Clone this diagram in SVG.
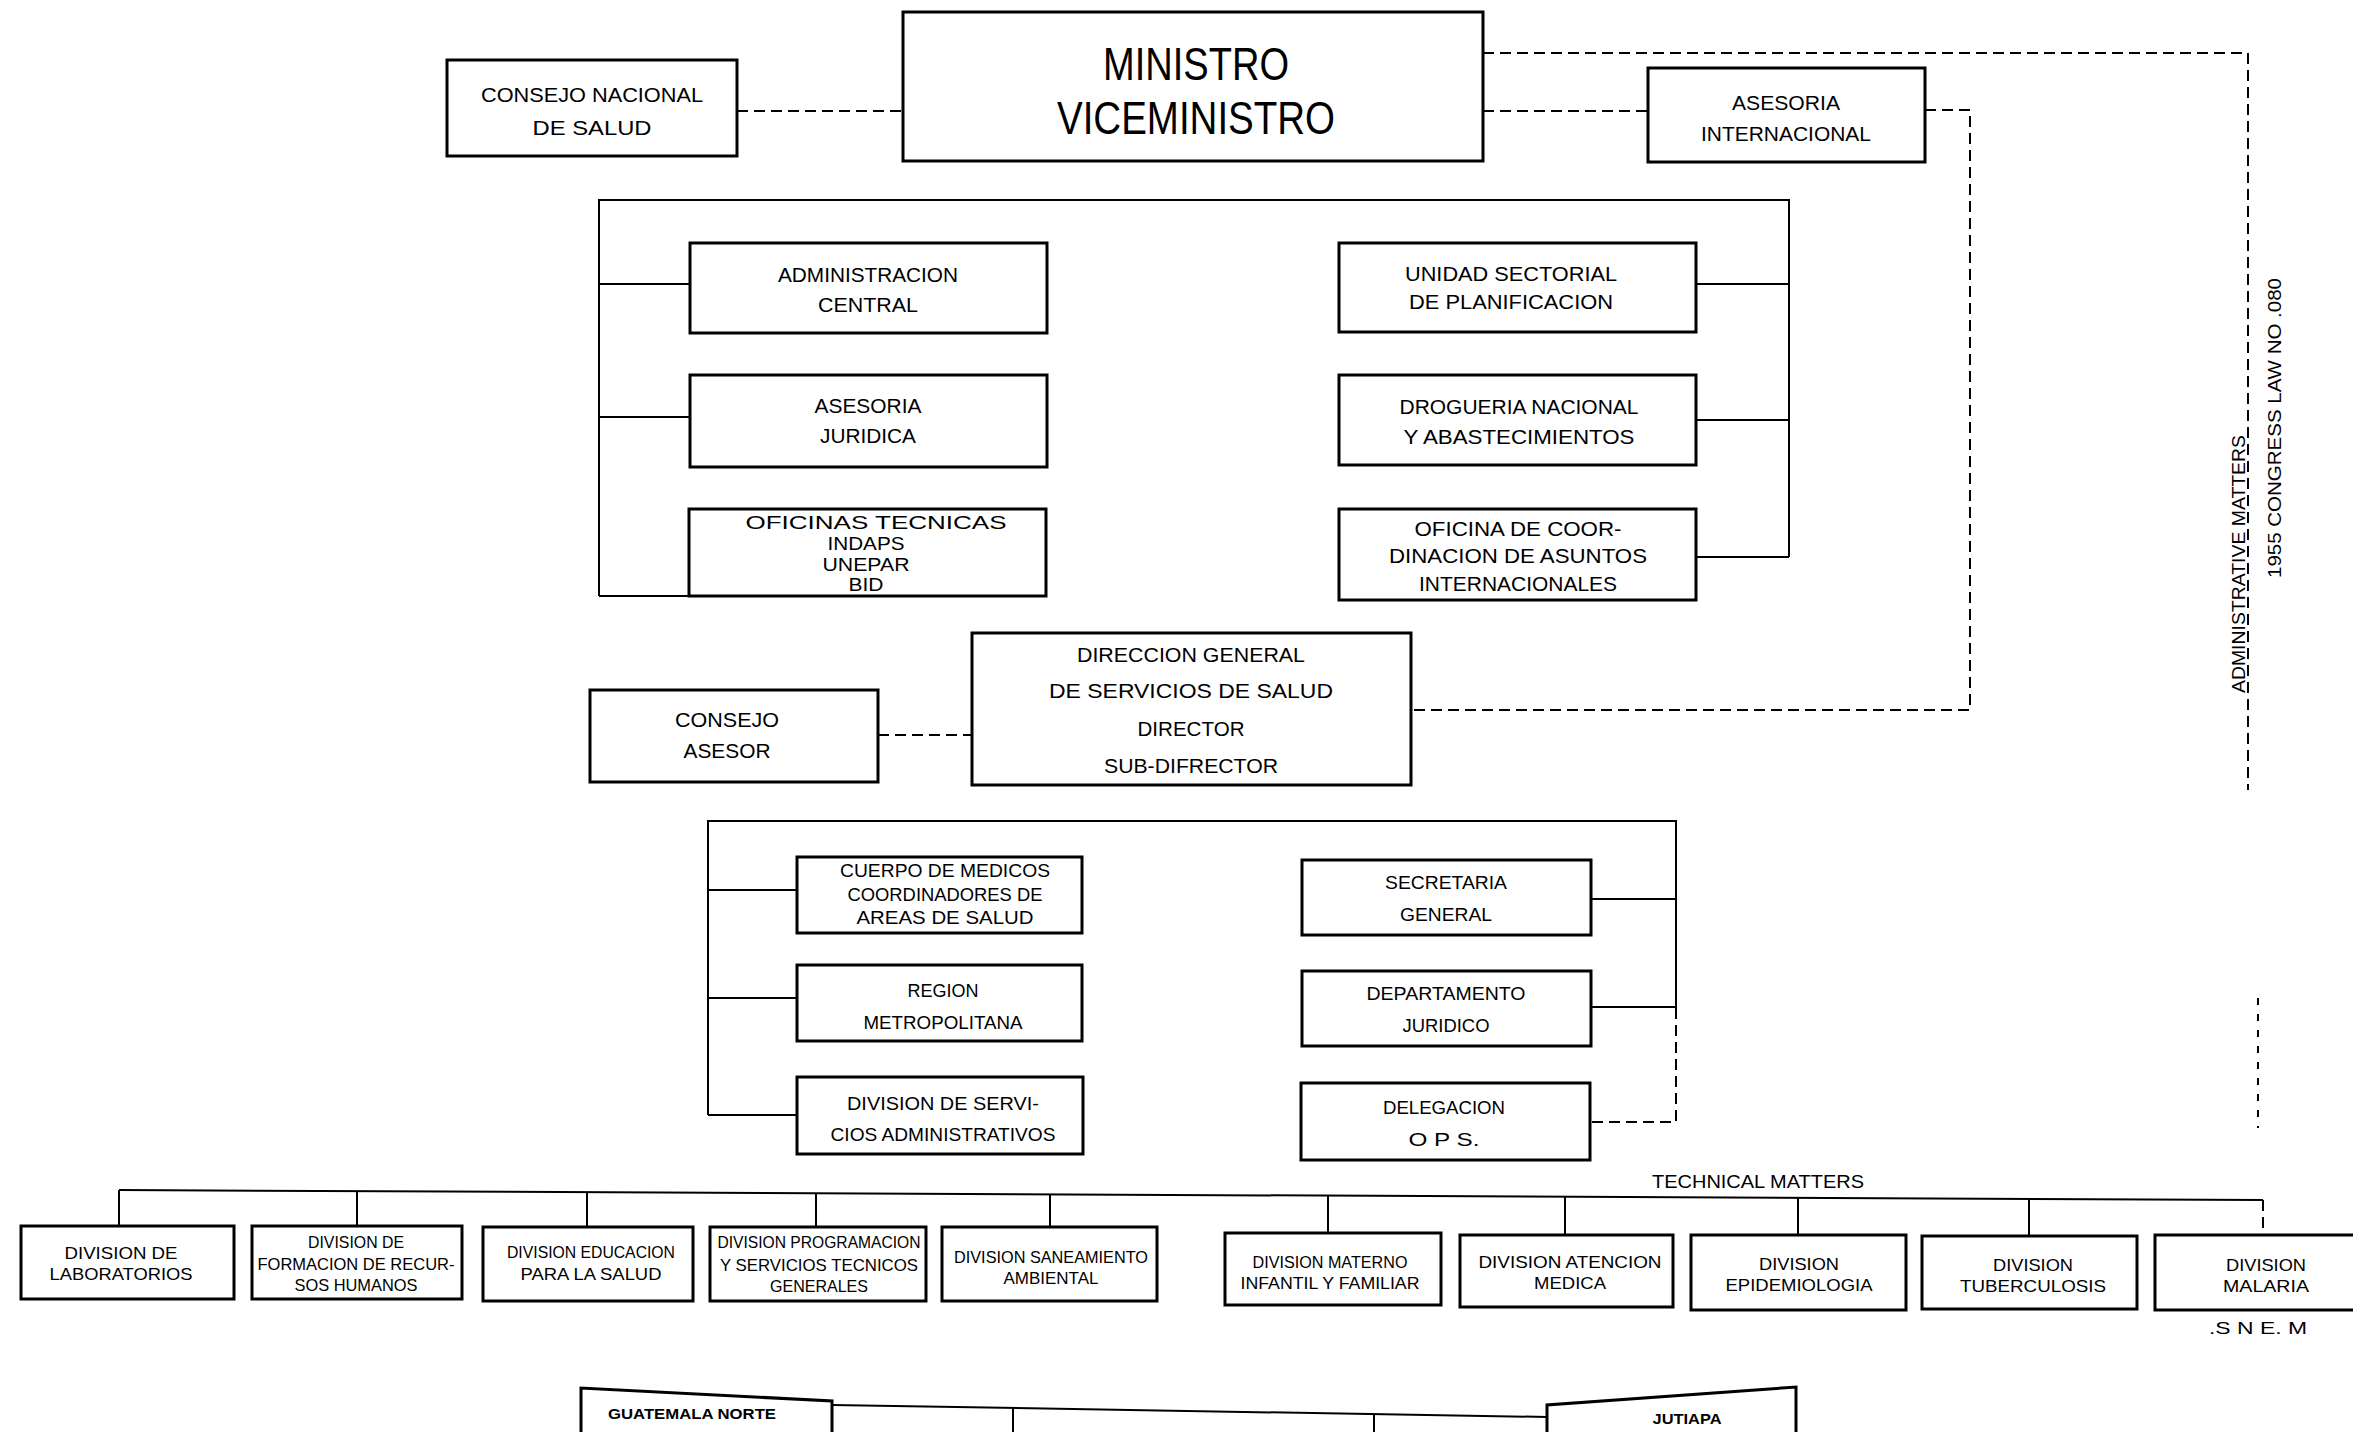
<svg xmlns="http://www.w3.org/2000/svg" width="2353" height="1432" viewBox="0 0 2353 1432">
<style>
.box{fill:#fff;stroke:#000;stroke-width:3}
.ln{stroke:#000;stroke-width:2;fill:none}
.dash{stroke:#000;stroke-width:2;fill:none;stroke-dasharray:11 6}
.dot{stroke:#000;stroke-width:2;fill:none;stroke-dasharray:7 9}
text{font-family:"Liberation Sans",Arial,sans-serif;fill:#000;text-anchor:middle}
.t21{font-size:21px}
.t19{font-size:19px}
.t17{font-size:17px}
.big{font-size:46px}
</style>
<rect width="2353" height="1432" fill="#fff"/>

<g id="connectors">
  <!-- dashed staff links -->
  <path class="dash" d="M737,111 H903"/>
  <path class="dash" d="M1483,111 H1648"/>
  <path class="dash" d="M1483,53 H2248 V790"/>
  <path class="dot" d="M2258,998 V1128"/>
  <path class="dash" d="M1925,110 H1970 V710 H1411"/>
  <path class="dash" d="M878,735 H972"/>
  <!-- bracket 1 -->
  <path class="ln" d="M599,596 V200 H1789 V557"/>
  <path class="ln" d="M599,284 H690 M599,417 H690 M599,596 H689"/>
  <path class="ln" d="M1696,284 H1789 M1696,420 H1789 M1696,557 H1789"/>
  <!-- bracket 2 -->
  <path class="ln" d="M708,1115 V821 H1676 V1008"/>
  <path class="dash" d="M1676,1008 V1122 H1591"/>
  <path class="ln" d="M708,890 H797 M708,998 H797 M708,1115 H797"/>
  <path class="ln" d="M1591,899 H1676 M1591,1007 H1676"/>
  <!-- technical matters bus -->
  <path class="ln" d="M119,1190 L2263,1200"/>
  <path class="ln" d="M119,1190 V1226 M357,1191 V1226 M587,1192 V1227 M816,1193 V1227 M1050,1194 V1227 M1328,1196 V1233 M1565,1197 V1235 M1798,1198 V1235 M2029,1199 V1236"/>
  <path class="dash" d="M2263,1200 V1235"/>
  <!-- bottom partial row -->
  <path class="ln" d="M832,1405 L1547,1417"/>
  <path class="ln" d="M1013,1408 V1432 M1374,1414 V1432"/>
</g>

<g id="n-consejo-nacional">
  <rect class="box" x="447" y="60" width="290" height="96"/>
  <text class="t21" x="592" y="102" textLength="222" lengthAdjust="spacingAndGlyphs">CONSEJO NACIONAL</text>
  <text class="t21" x="592" y="135" textLength="119" lengthAdjust="spacingAndGlyphs">DE SALUD</text>
</g>

<g id="n-ministro">
  <rect class="box" x="903" y="12" width="580" height="149"/>
  <text class="big" x="1196" y="80" textLength="186" lengthAdjust="spacingAndGlyphs">MINISTRO</text>
  <text class="big" x="1196" y="134" textLength="278" lengthAdjust="spacingAndGlyphs">VICEMINISTRO</text>
</g>

<g id="n-asesoria-internacional">
  <rect class="box" x="1648" y="68" width="277" height="94"/>
  <text class="t21" x="1786" y="110" textLength="108" lengthAdjust="spacingAndGlyphs">ASESORIA</text>
  <text class="t21" x="1786" y="141" textLength="170" lengthAdjust="spacingAndGlyphs">INTERNACIONAL</text>
</g>

<g id="n-admin-central">
  <rect class="box" x="690" y="243" width="357" height="90"/>
  <text class="t21" x="868" y="282" textLength="180" lengthAdjust="spacingAndGlyphs">ADMINISTRACION</text>
  <text class="t21" x="868" y="312" textLength="100" lengthAdjust="spacingAndGlyphs">CENTRAL</text>
</g>

<g id="n-asesoria-juridica">
  <rect class="box" x="690" y="375" width="357" height="92"/>
  <text class="t21" x="868" y="413" textLength="107" lengthAdjust="spacingAndGlyphs">ASESORIA</text>
  <text class="t21" x="868" y="443" textLength="96" lengthAdjust="spacingAndGlyphs">JURIDICA</text>
</g>

<g id="n-oficinas-tecnicas">
  <rect class="box" x="689" y="509" width="357" height="87"/>
  <text class="t19" x="876" y="529" textLength="261" lengthAdjust="spacingAndGlyphs">OFICINAS TECNICAS</text>
  <text class="t19" x="866" y="550" textLength="77" lengthAdjust="spacingAndGlyphs">INDAPS</text>
  <text class="t19" x="866" y="571" textLength="87" lengthAdjust="spacingAndGlyphs">UNEPAR</text>
  <text class="t19" x="866" y="591" textLength="35" lengthAdjust="spacingAndGlyphs">BID</text>
</g>

<g id="n-unidad-sectorial">
  <rect class="box" x="1339" y="243" width="357" height="89"/>
  <text class="t21" x="1511" y="281" textLength="212" lengthAdjust="spacingAndGlyphs">UNIDAD SECTORIAL</text>
  <text class="t21" x="1511" y="309" textLength="204" lengthAdjust="spacingAndGlyphs">DE PLANIFICACION</text>
</g>

<g id="n-drogueria">
  <rect class="box" x="1339" y="375" width="357" height="90"/>
  <text class="t21" x="1519" y="414" textLength="239" lengthAdjust="spacingAndGlyphs">DROGUERIA NACIONAL</text>
  <text class="t21" x="1519" y="444" textLength="231" lengthAdjust="spacingAndGlyphs">Y ABASTECIMIENTOS</text>
</g>

<g id="n-oficina-coordinacion">
  <rect class="box" x="1339" y="509" width="357" height="91"/>
  <text class="t21" x="1518" y="536" textLength="207" lengthAdjust="spacingAndGlyphs">OFICINA DE COOR-</text>
  <text class="t21" x="1518" y="563" textLength="258" lengthAdjust="spacingAndGlyphs">DINACION DE ASUNTOS</text>
  <text class="t21" x="1518" y="591" textLength="198" lengthAdjust="spacingAndGlyphs">INTERNACIONALES</text>
</g>

<g id="n-direccion-general">
  <rect class="box" x="972" y="633" width="439" height="152"/>
  <text class="t21" x="1191" y="662" textLength="228" lengthAdjust="spacingAndGlyphs">DIRECCION GENERAL</text>
  <text class="t21" x="1191" y="698" textLength="284" lengthAdjust="spacingAndGlyphs">DE SERVICIOS DE SALUD</text>
  <text class="t21" x="1191" y="736" textLength="107" lengthAdjust="spacingAndGlyphs">DIRECTOR</text>
  <text class="t21" x="1191" y="773" textLength="174" lengthAdjust="spacingAndGlyphs">SUB-DIFRECTOR</text>
</g>

<g id="n-consejo-asesor">
  <rect class="box" x="590" y="690" width="288" height="92"/>
  <text class="t21" x="727" y="727" textLength="104" lengthAdjust="spacingAndGlyphs">CONSEJO</text>
  <text class="t21" x="727" y="758" textLength="87" lengthAdjust="spacingAndGlyphs">ASESOR</text>
</g>

<g id="n-cuerpo-medicos">
  <rect class="box" x="797" y="857" width="285" height="76"/>
  <text class="t19" x="945" y="877" textLength="210" lengthAdjust="spacingAndGlyphs">CUERPO DE MEDICOS</text>
  <text class="t19" x="945" y="901" textLength="195" lengthAdjust="spacingAndGlyphs">COORDINADORES DE</text>
  <text class="t19" x="945" y="924" textLength="177" lengthAdjust="spacingAndGlyphs">AREAS DE SALUD</text>
</g>

<g id="n-region-metropolitana">
  <rect class="box" x="797" y="965" width="285" height="76"/>
  <text class="t19" x="943" y="997" textLength="71" lengthAdjust="spacingAndGlyphs">REGION</text>
  <text class="t19" x="943" y="1029" textLength="159" lengthAdjust="spacingAndGlyphs">METROPOLITANA</text>
</g>

<g id="n-division-servicios-adm">
  <rect class="box" x="797" y="1077" width="286" height="77"/>
  <text class="t19" x="943" y="1110" textLength="192" lengthAdjust="spacingAndGlyphs">DIVISION DE SERVI-</text>
  <text class="t19" x="943" y="1141" textLength="225" lengthAdjust="spacingAndGlyphs">CIOS ADMINISTRATIVOS</text>
</g>

<g id="n-secretaria-general">
  <rect class="box" x="1302" y="860" width="289" height="75"/>
  <text class="t19" x="1446" y="889" textLength="122" lengthAdjust="spacingAndGlyphs">SECRETARIA</text>
  <text class="t19" x="1446" y="921" textLength="92" lengthAdjust="spacingAndGlyphs">GENERAL</text>
</g>

<g id="n-departamento-juridico">
  <rect class="box" x="1302" y="971" width="289" height="75"/>
  <text class="t19" x="1446" y="1000" textLength="159" lengthAdjust="spacingAndGlyphs">DEPARTAMENTO</text>
  <text class="t19" x="1446" y="1032" textLength="87" lengthAdjust="spacingAndGlyphs">JURIDICO</text>
</g>

<g id="n-delegacion-ops">
  <rect class="box" x="1301" y="1083" width="289" height="77"/>
  <text class="t19" x="1444" y="1114" textLength="122" lengthAdjust="spacingAndGlyphs">DELEGACION</text>
  <text class="t19" x="1444" y="1146" textLength="71" lengthAdjust="spacingAndGlyphs">O P S.</text>
</g>

<g id="labels">
  <text class="t19" x="1758" y="1188" textLength="212" lengthAdjust="spacingAndGlyphs">TECHNICAL MATTERS</text>
  <text class="t19" transform="translate(2245,564) rotate(-90)" x="0" y="0" textLength="258" lengthAdjust="spacingAndGlyphs">ADMINISTRATIVE MATTERS</text>
  <text class="t19" transform="translate(2281,428) rotate(-90)" x="0" y="0" textLength="300" lengthAdjust="spacingAndGlyphs">1955 CONGRESS LAW NO .080</text>
  <text class="t17" x="2258" y="1334" textLength="98" lengthAdjust="spacingAndGlyphs">.S N E. M</text>
</g>

<g id="n-laboratorios">
  <rect class="box" x="21" y="1226" width="213" height="73"/>
  <text class="t17" x="121" y="1259" textLength="113" lengthAdjust="spacingAndGlyphs">DIVISION DE</text>
  <text class="t17" x="121" y="1280" textLength="143" lengthAdjust="spacingAndGlyphs">LABORATORIOS</text>
</g>

<g id="n-recursos-humanos">
  <rect class="box" x="252" y="1226" width="210" height="73"/>
  <text class="t17" x="356" y="1248" textLength="96" lengthAdjust="spacingAndGlyphs">DIVISION DE</text>
  <text class="t17" x="356" y="1270" textLength="197" lengthAdjust="spacingAndGlyphs">FORMACION DE RECUR-</text>
  <text class="t17" x="356" y="1291" textLength="123" lengthAdjust="spacingAndGlyphs">SOS HUMANOS</text>
</g>

<g id="n-educacion">
  <rect class="box" x="483" y="1227" width="210" height="74"/>
  <text class="t17" x="591" y="1258" textLength="168" lengthAdjust="spacingAndGlyphs">DIVISION EDUCACION</text>
  <text class="t17" x="591" y="1280" textLength="141" lengthAdjust="spacingAndGlyphs">PARA LA SALUD</text>
</g>

<g id="n-programacion">
  <rect class="box" x="710" y="1227" width="216" height="74"/>
  <text class="t17" x="819" y="1248" textLength="203" lengthAdjust="spacingAndGlyphs">DIVISION PROGRAMACION</text>
  <text class="t17" x="819" y="1271" textLength="198" lengthAdjust="spacingAndGlyphs">Y SERVICIOS TECNICOS</text>
  <text class="t17" x="819" y="1292" textLength="98" lengthAdjust="spacingAndGlyphs">GENERALES</text>
</g>

<g id="n-saneamiento">
  <rect class="box" x="942" y="1227" width="215" height="74"/>
  <text class="t17" x="1051" y="1263" textLength="194" lengthAdjust="spacingAndGlyphs">DIVISION SANEAMIENTO</text>
  <text class="t17" x="1051" y="1284" textLength="95" lengthAdjust="spacingAndGlyphs">AMBIENTAL</text>
</g>

<g id="n-materno-infantil">
  <rect class="box" x="1225" y="1233" width="216" height="72"/>
  <text class="t17" x="1330" y="1268" textLength="155" lengthAdjust="spacingAndGlyphs">DIVISION MATERNO</text>
  <text class="t17" x="1330" y="1289" textLength="179" lengthAdjust="spacingAndGlyphs">INFANTIL Y FAMILIAR</text>
</g>

<g id="n-atencion-medica">
  <rect class="box" x="1460" y="1235" width="213" height="72"/>
  <text class="t17" x="1570" y="1268" textLength="183" lengthAdjust="spacingAndGlyphs">DIVISION ATENCION</text>
  <text class="t17" x="1570" y="1289" textLength="72" lengthAdjust="spacingAndGlyphs">MEDICA</text>
</g>

<g id="n-epidemiologia">
  <rect class="box" x="1691" y="1235" width="215" height="75"/>
  <text class="t17" x="1799" y="1270" textLength="80" lengthAdjust="spacingAndGlyphs">DIVISION</text>
  <text class="t17" x="1799" y="1291" textLength="147" lengthAdjust="spacingAndGlyphs">EPIDEMIOLOGIA</text>
</g>

<g id="n-tuberculosis">
  <rect class="box" x="1922" y="1236" width="215" height="73"/>
  <text class="t17" x="2033" y="1271" textLength="80" lengthAdjust="spacingAndGlyphs">DIVISION</text>
  <text class="t17" x="2033" y="1292" textLength="146" lengthAdjust="spacingAndGlyphs">TUBERCULOSIS</text>
</g>

<g id="n-malaria">
  <rect class="box" x="2155" y="1235" width="220" height="75"/>
  <text class="t17" x="2266" y="1271" textLength="80" lengthAdjust="spacingAndGlyphs">DIVISION</text>
  <text class="t17" x="2266" y="1292" textLength="86" lengthAdjust="spacingAndGlyphs">MALARIA</text>
</g>

<g id="n-guatemala-norte">
  <path class="box" d="M581,1440 V1388 L832,1401 V1440"/>
  <text x="692" y="1419" font-size="15" font-weight="bold" textLength="168" lengthAdjust="spacingAndGlyphs">GUATEMALA NORTE</text>
</g>

<g id="n-jutiapa">
  <path class="box" d="M1547,1440 V1405 L1796,1387 V1440"/>
  <text x="1687" y="1424" font-size="15" font-weight="bold" textLength="69" lengthAdjust="spacingAndGlyphs">JUTIAPA</text>
</g>
</svg>
